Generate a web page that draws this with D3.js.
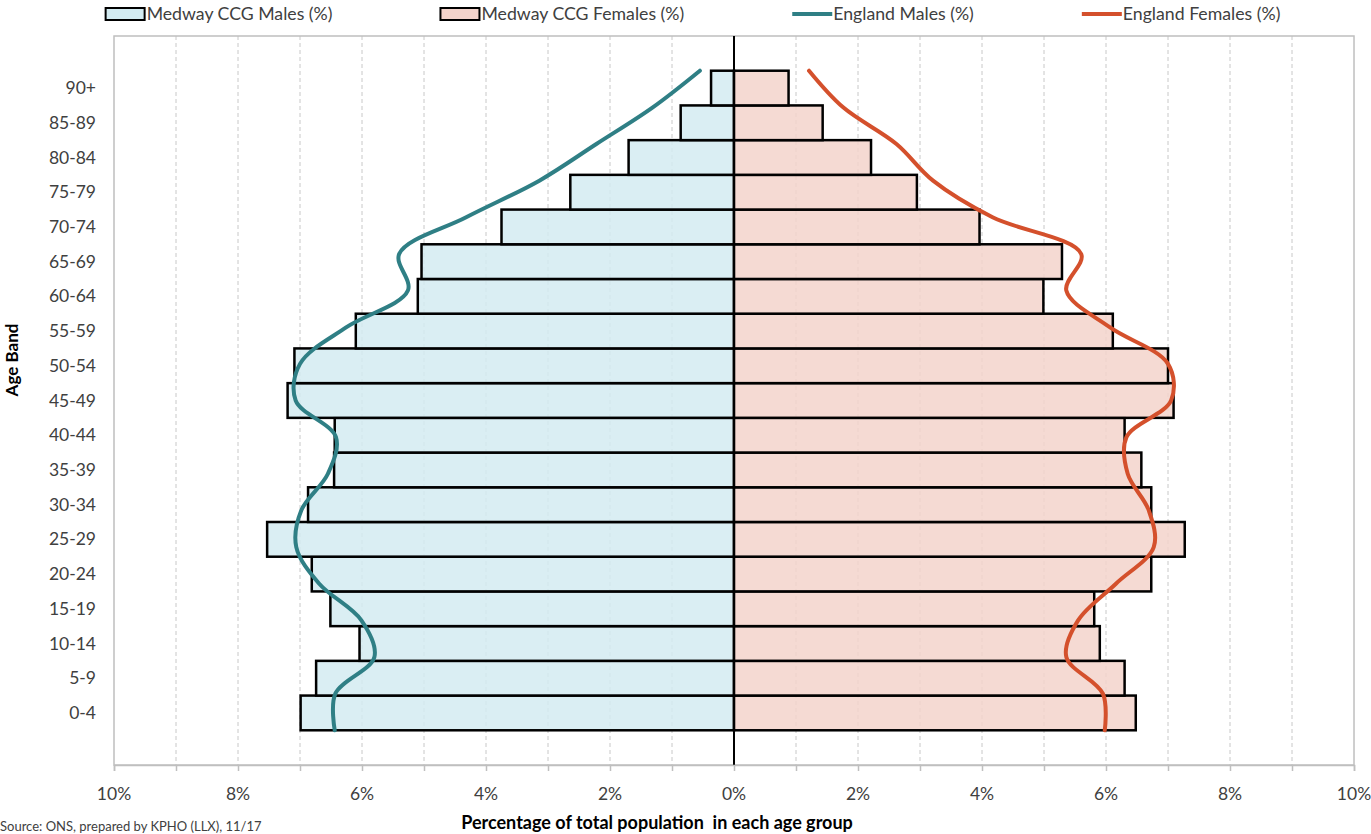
<!DOCTYPE html>
<html>
<head>
<meta charset="utf-8">
<script src="https://cdn.jsdelivr.net/npm/d3@7"></script>
<style>
  body { margin: 0; background: #fff; }
  text { font-family: Lato, "Open Sans", sans-serif; }
</style>
</head>
<body>
<svg id="chart" width="1371" height="834"></svg>
<script>
// age bands, bottom to top
var ages = ["0-4", "5-9", "10-14", "15-19", "20-24", "25-29", "30-34", "35-39", "40-44",
            "45-49", "50-54", "55-59", "60-64", "65-69", "70-74", "75-79", "80-84", "85-89", "90+"];

var medwayMales = [6.99, 6.74, 6.04, 6.51, 6.81, 7.53, 6.87, 6.45, 6.44, 7.20,
                   7.09, 6.10, 5.10, 5.04, 3.75, 2.64, 1.70, 0.86, 0.37];
var medwayFemales = [6.48, 6.30, 5.90, 5.81, 6.73, 7.27, 6.73, 6.57, 6.30, 7.09,
                     7.00, 6.11, 4.99, 5.29, 3.96, 2.95, 2.21, 1.43, 0.88];
var englandMales = [6.44, 6.43, 5.80, 6.01, 6.69, 7.06, 6.98, 6.55, 6.42, 7.07,
                    7.00, 6.25, 5.26, 5.40, 4.32, 3.14, 2.22, 1.31, 0.55];
var englandFemales = [5.98, 5.95, 5.36, 5.55, 6.16, 6.77, 6.69, 6.35, 6.33, 7.05,
                      7.00, 6.06, 5.36, 5.60, 4.17, 3.21, 2.62, 1.76, 1.21];

var xTicks = [-10, -9, -8, -7, -6, -5, -4, -3, -2, -1, 0, 1, 2, 3, 4, 5, 6, 7, 8, 9, 10];
var xLabels = [-10, -8, -6, -4, -2, 0, 2, 4, 6, 8, 10];

var legendItems = [
  { name: "Medway CCG Males (%)", type: "bar", color: "#D3EBF1" },
  { name: "Medway CCG Females (%)", type: "bar", color: "#F3D3CB" },
  { name: "England Males (%)", type: "line", color: "#2F7F85" },
  { name: "England Females (%)", type: "line", color: "#D4502C" }
];

var svg = d3.select("#chart"),
    margin = { top: 36, right: 17, bottom: 69, left: 114 },
    width = 1371 - margin.left - margin.right,
    height = 834 - margin.top - margin.bottom;

var x = d3.scaleLinear().domain([-10, 10]).range([margin.left, margin.left + width]);
var y = d3.scaleBand().domain(ages)
    .range([margin.top + height, margin.top])
    .paddingInner(0).paddingOuter(1);
// the England lines sit on a second category axis, points on the tick marks
var yLine = d3.scalePoint().domain(ages)
    .range([y(ages[0]) + y.bandwidth(), y(ages[ages.length - 1])]);

var plotTop = margin.top, plotBottom = margin.top + height;

// dashed vertical gridlines
svg.append("g").selectAll("line")
    .data(xTicks.filter(function (d) { return d !== 0 && Math.abs(d) !== 10; }))
    .enter().append("line")
    .attr("x1", function (d) { return x(d); })
    .attr("x2", function (d) { return x(d); })
    .attr("y1", plotTop).attr("y2", plotBottom)
    .attr("stroke", "#c8c8c8").attr("stroke-width", 1)
    .attr("stroke-dasharray", "4,3");

// plot frame
svg.append("rect")
    .attr("x", x(-10)).attr("y", plotTop)
    .attr("width", x(10) - x(-10)).attr("height", plotBottom - plotTop)
    .attr("fill", "none").attr("stroke", "#bfbfbf").attr("stroke-width", 1.5);

// bars
var bars = svg.append("g");
bars.selectAll(".male").data(ages).enter().append("rect")
    .attr("x", function (d, i) { return x(-medwayMales[i]); })
    .attr("y", function (d) { return y(d); })
    .attr("width", function (d, i) { return x(0) - x(-medwayMales[i]); })
    .attr("height", y.bandwidth())
    .attr("fill", "#D3EBF1").attr("fill-opacity", 0.85)
    .attr("stroke", "#000").attr("stroke-width", 2.5);

bars.selectAll(".female").data(ages).enter().append("rect")
    .attr("x", x(0))
    .attr("y", function (d) { return y(d); })
    .attr("width", function (d, i) { return x(medwayFemales[i]) - x(0); })
    .attr("height", y.bandwidth())
    .attr("fill", "#F3D3CB").attr("fill-opacity", 0.85)
    .attr("stroke", "#000").attr("stroke-width", 2.5);

// zero line
svg.append("line")
    .attr("x1", x(0)).attr("x2", x(0))
    .attr("y1", plotTop).attr("y2", plotBottom)
    .attr("stroke", "#000").attr("stroke-width", 2);

// England smoothed lines
var lineM = d3.line()
    .x(function (d, i) { return x(-englandMales[i]); })
    .y(function (d) { return yLine(d); })
    .curve(d3.curveCatmullRom.alpha(0.5));
var lineF = d3.line()
    .x(function (d, i) { return x(englandFemales[i]); })
    .y(function (d) { return yLine(d); })
    .curve(d3.curveCatmullRom.alpha(0.5));

svg.append("path").datum(ages).attr("d", lineM)
    .attr("fill", "none").attr("stroke", "#2F7F85").attr("stroke-width", 4)
    .attr("stroke-linecap", "round");
svg.append("path").datum(ages).attr("d", lineF)
    .attr("fill", "none").attr("stroke", "#D4502C").attr("stroke-width", 4)
    .attr("stroke-linecap", "round");

// x axis
var xAxis = svg.append("g").attr("transform", "translate(0," + plotBottom + ")")
    .call(d3.axisBottom(x).tickValues(xTicks).tickSize(6).tickFormat(""));
xAxis.select(".domain").attr("stroke", "#bfbfbf").attr("stroke-width", 1.5);
xAxis.selectAll(".tick line").attr("stroke", "#bfbfbf").attr("stroke-width", 1.5);

svg.append("g").selectAll("text").data(xLabels).enter().append("text")
    .attr("x", function (d) { return x(d); })
    .attr("y", plotBottom + 35)
    .attr("text-anchor", "middle")
    .attr("font-size", 17.5).attr("fill", "#404040")
    .text(function (d) { return Math.abs(d) + "%"; });

// y axis labels
svg.append("g").selectAll("text").data(ages).enter().append("text")
    .attr("x", margin.left - 18)
    .attr("y", function (d) { return y(d) + y.bandwidth() / 2 + 6; })
    .attr("text-anchor", "end")
    .attr("font-size", 17.5).attr("fill", "#404040")
    .text(function (d) { return d; });

// axis titles
svg.append("text")
    .attr("transform", "translate(18,360) rotate(-90)")
    .attr("text-anchor", "middle")
    .attr("font-size", 17).attr("font-weight", "bold").attr("fill", "#000")
    .text("Age Band");

svg.append("text")
    .attr("x", 657).attr("y", 829)
    .attr("text-anchor", "middle")
    .attr("font-size", 18).attr("font-weight", "bold").attr("fill", "#000")
    .attr("xml:space", "preserve")
    .text("Percentage of total population  in each age group");

svg.append("text")
    .attr("x", 0).attr("y", 831)
    .attr("font-size", 13).attr("fill", "#404040")
    .text("Source: ONS, prepared by KPHO (LLX), 11/17");

// legend
var legend = svg.append("g");
var items = legend.selectAll("g").data(legendItems).enter().append("g");
items.each(function (d) {
  var g = d3.select(this);
  if (d.type === "bar") {
    g.append("rect").attr("x", 0).attr("y", 8).attr("width", 39).attr("height", 12)
      .attr("fill", d.color).attr("stroke", "#000").attr("stroke-width", 2);
  } else {
    g.append("line").attr("x1", 0).attr("x2", 40).attr("y1", 14).attr("y2", 14)
      .attr("stroke", d.color).attr("stroke-width", 4);
  }
  g.append("text").attr("x", 41).attr("y", 20)
    .attr("font-size", 17.7).attr("fill", "#404040").text(d.name);
});
var gap = 108, pos = 0, offsets = [];
items.each(function () {
  offsets.push(pos);
  pos += this.getBBox().width + gap;
});
var total = pos - gap, start = 693 - total / 2;
items.attr("transform", function (d, i) { return "translate(" + (start + offsets[i]) + ",0)"; });
</script>
</body>
</html>
